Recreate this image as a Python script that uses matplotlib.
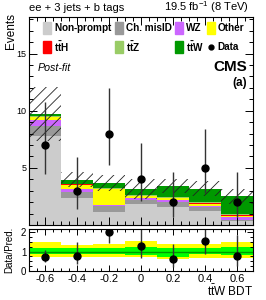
import numpy as np
import matplotlib
matplotlib.use('Agg')
import matplotlib.pyplot as plt
from matplotlib.patches import Rectangle
from matplotlib.lines import Line2D

plt.rcParams['font.family'] = ['Liberation Sans', 'DejaVu Sans']
plt.rcParams['mathtext.fontset'] = 'custom'
plt.rcParams['mathtext.rm'] = 'Liberation Sans'
plt.rcParams['mathtext.bf'] = 'Liberation Sans:bold'
plt.rcParams['mathtext.it'] = 'Liberation Sans:italic'
plt.rcParams['hatch.linewidth'] = 0.6

# ttW BDT bins
bin_edges = [-0.7, -0.5, -0.3, -0.1, 0.1, 0.3, 0.5, 0.7]
bin_centers = [-0.6, -0.4, -0.2, 0.0, 0.2, 0.4, 0.6]

# post-fit stack, bottom to top
nonprompt = [7.80, 2.37, 1.14, 1.85, 1.58, 1.23, 0.35]
ch_misid = [0.85, 0.55, 0.50, 0.38, 0.44, 0.35, 0.12]
wz = [0.55, 0.25, 0.12, 0.17, 0.18, 0.12, 0.23]
other = [0.25, 0.35, 1.35, 0.12, 0.12, 0.12, 0.12]
tth = [0.04, 0.05, 0.05, 0.05, 0.06, 0.08, 0.08]
ttz = [0.05, 0.06, 0.05, 0.05, 0.06, 0.10, 0.10]
ttw = [0.20, 0.35, 0.45, 0.52, 0.95, 1.19, 1.52]
total_unc = [2.35, 0.67, 0.68, 0.90, 0.60, 0.64, 0.67]

# observed events with 68% Poisson intervals
data = [7, 3, 8, 4, 2, 5, 2]
data_lo = [4.42, 1.37, 5.23, 2.09, 0.71, 2.84, 0.71]
data_hi = [10.77, 5.92, 11.95, 7.16, 4.64, 8.38, 4.64]

# ratio panel
ratio = [0.74, 0.77, 2.0, 1.27, 0.60, 1.57, 0.80]
ratio_lo = [0.45, 0.35, 1.43, 0.67, 0.22, 0.89, 0.28]
ratio_hi = [1.10, 1.50, 2.20, 2.30, 1.37, 2.60, 1.85]
band1_lo = [0.86, 0.86, 0.86, 0.83, 0.74, 0.88, 0.84]
band1_hi = [1.20, 1.17, 1.17, 1.25, 1.17, 1.20, 1.25]
band2_lo = [0.74, 0.74, 0.74, 0.71, 0.60, 0.68, 0.66]
band2_hi = [1.48, 1.34, 1.39, 1.55, 1.40, 1.40, 1.51]

components = [
    (nonprompt, '#cccccc', r'$\mathbf{Non}$-$\mathbf{prompt}$'),
    (ch_misid, '#999999', 'Ch. misID'),
    (wz, '#cc66ff', 'WZ'),
    (other, '#ffff00', 'Other'),
    (tth, '#ff0000', r'$\mathbf{t\bar{t}H}$'),
    (ttz, '#99cc66', r'$\mathbf{t\bar{t}Z}$'),
    (ttw, '#009900', r'$\mathbf{t\bar{t}W}$'),
]

W, H = 266, 300
fig = plt.figure(figsize=(W / 100, H / 100), dpi=100)


def fx(px):
    return px / W


def fy(py):
    return 1 - py / H


ax = fig.add_axes([fx(29), fy(225), fx(253) - fx(29), fy(17) - fy(225)])
rax = fig.add_axes([fx(29), fy(271), fx(253) - fx(29), fy(229) - fy(271)])

width = 0.2
bottom = np.zeros(len(bin_centers))
for vals, col, _ in components:
    ax.bar(bin_centers, vals, width=width, bottom=bottom, color=col, linewidth=0)
    bottom = bottom + np.array(vals)

unc = np.array(total_unc)
ax.bar(bin_centers, 2 * unc, width=width, bottom=bottom - unc, fill=False,
       hatch='///', edgecolor='#222222', linewidth=0)

d = np.array(data)
ax.errorbar(bin_centers, d, yerr=[d - np.array(data_lo), np.array(data_hi) - d],
            fmt='o', color='black', ecolor='#333333', ms=5, elinewidth=1, capsize=0)

ax.set_xlim(bin_edges[0], bin_edges[-1])
ax.set_ylim(0, 18.2)
ax.set_yticks([5, 10, 15])
ax.set_yticks(np.arange(1, 19), minor=True)
ax.set_xticks(bin_centers)
ax.set_xticks(np.arange(-0.7, 0.71, 0.05), minor=True)
ax.set_xticklabels([])

# ratio panel
r = np.array(ratio)
rax.bar(bin_centers, np.array(band2_hi) - np.array(band2_lo), width=width,
        bottom=band2_lo, color='#ffff00', linewidth=0)
rax.bar(bin_centers, np.array(band1_hi) - np.array(band1_lo), width=width,
        bottom=band1_lo, color='#00ff00', linewidth=0)
rax.axhline(1, color='#009900', lw=1)
rax.errorbar(bin_centers, r, yerr=[r - np.array(ratio_lo), np.array(ratio_hi) - r],
             fmt='o', color='black', ecolor='#333333', ms=5, elinewidth=1, capsize=0)
rax.set_xlim(bin_edges[0], bin_edges[-1])
rax.set_ylim(0, 2.17)
rax.set_yticks([0, 1, 2])
rax.set_yticks(np.arange(0, 2.2, 0.25), minor=True)
rax.set_xticks(bin_centers)
rax.set_xticklabels(['-0.6', '-0.4', '-0.2', '0', '0.2', '0.4', '0.6'])
rax.set_xticks(np.arange(-0.7, 0.71, 0.05), minor=True)

for a in (ax, rax):
    a.tick_params(which='both', direction='in', top=True, right=True,
                  width=0.7, labelsize=6.5, pad=2)
    a.tick_params(which='major', length=6)
    a.tick_params(which='minor', length=3)
    for s in a.spines.values():
        s.set_linewidth(0.8)
rax.tick_params(axis='x', labelsize=8)
rax.tick_params(axis='y', labelsize=7)
rax.tick_params(which='major', length=4)
rax.tick_params(which='minor', length=2)

# texts
fig.text(fx(29), fy(11), 'ee + 3 jets + b tags', fontsize=8, va='baseline')
fig.text(fx(249), fy(11), r'19.5 fb$^{-1}$ (8 TeV)', fontsize=8, va='baseline', ha='right')
fig.text(fx(11), fy(13), 'Events', fontsize=8.5, rotation=90, ha='center', va='top')
fig.text(fx(9), fy(250), 'Data/Pred.', fontsize=7, rotation=90, ha='center', va='center')
fig.text(fx(253), fy(296), r'$\mathrm{t\bar{t}W}$ BDT', fontsize=8.5, ha='right', va='baseline')
fig.text(fx(38), fy(71), 'Post-fit', fontsize=7.7, style='italic', va='baseline')
fig.text(fx(247), fy(71), 'CMS', fontsize=11, weight='bold', ha='right', va='baseline')
fig.text(fx(247), fy(86), '(a)', fontsize=8.5, weight='bold', ha='right', va='baseline')

# legend
leg_pos = [(43, 28), (115, 28), (175, 28), (207, 28), (43, 47), (115, 47), (175, 47)]
for (vals, col, lab), (px, py) in zip(components, leg_pos):
    fig.patches.append(Rectangle((fx(px), fy(py + 6)), fx(8), 12 / H, color=col,
                                 transform=fig.transFigure, figure=fig))
    fig.text(fx(px + 11), fy(py), lab, fontsize=7.2, weight='bold', va='center')
fig.lines.append(Line2D([fx(211)], [fy(47)], marker='o', color='black', ms=3.5,
                        transform=fig.transFigure, figure=fig))
fig.text(fx(217), fy(47), 'Data', fontsize=7.2, weight='bold', va='center')

fig.savefig('out.png', dpi=100)
